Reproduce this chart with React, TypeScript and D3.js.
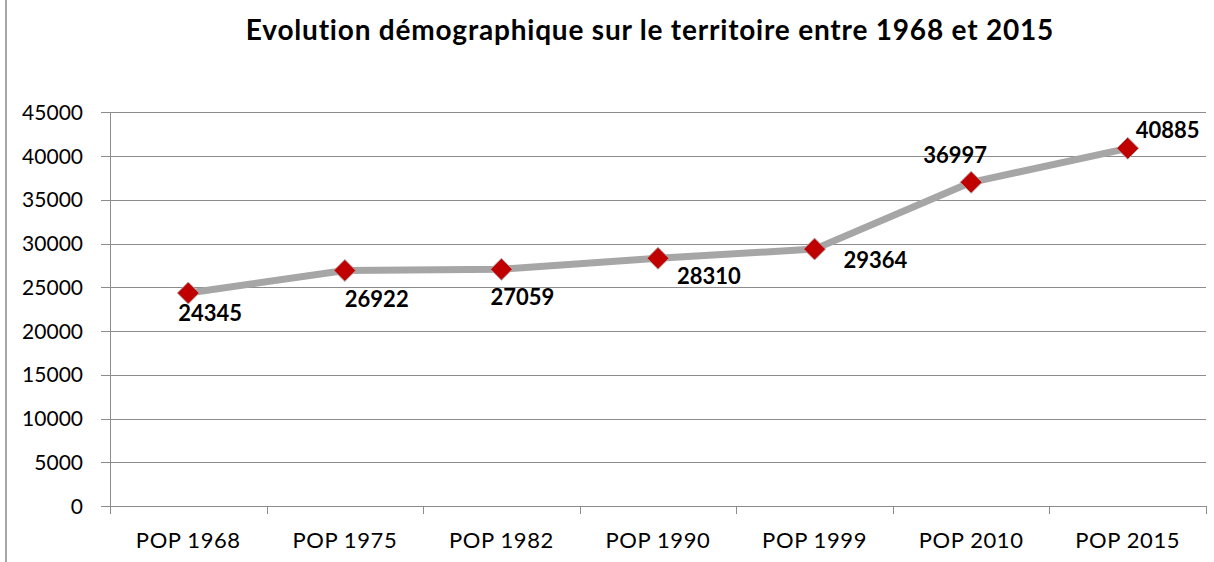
import React from "react";
import * as d3 from "d3";

const title = "Evolution démographique sur le territoire entre 1968 et 2015";
const categories = ["POP 1968", "POP 1975", "POP 1982", "POP 1990", "POP 1999", "POP 2010", "POP 2015"];
const population = [24345, 26922, 27059, 28310, 29364, 36997, 40885];
const yTicks = [0, 5000, 10000, 15000, 20000, 25000, 30000, 35000, 40000, 45000];
// label placement offsets relative to marker (text start, baseline)
const labelDx = [-10, 0, -11, 19, 29, -48, 8];
const labelDy = [28, 37, 36, 26, 19, -19, -10];

const W = 1214;
const H = 562;
const plot = { left: 110, right: 1206, top: 112.3, bottom: 506 };
const FONT = "Lato, 'Open Sans', sans-serif";

export default function App() {
  const x = d3.scaleBand<string>().domain(categories).range([plot.left, plot.right]);
  const y = d3.scaleLinear().domain([0, 45000]).range([plot.bottom, plot.top]);
  const cx = (c: string) => (x(c) as number) + x.bandwidth() / 2;
  const line = d3
    .line<number>()
    .x((_, i) => cx(categories[i]))
    .y((d) => y(d));
  const catTicks = [...categories.map((c) => x(c) as number), plot.right];
  const r = 11;

  return (
    <div style={{ position: "absolute", left: 0, top: 0 }}>
      <svg width={W} height={H} style={{ display: "block", background: "#fff" }}>
        <rect x={0} y={0} width={W} height={H} fill="#fff" />
        <line x1={6} x2={6} y1={0} y2={H} stroke="#a6a6a6" strokeWidth={2} />
        <text
          x={650}
          y={40}
          textAnchor="middle"
          fontFamily={FONT}
          fontWeight="bold"
          fontSize={28}
          letterSpacing={0.8}
          fill="#000"
        >
          {title}
        </text>
        {yTicks.map((t) => (
          <g key={t}>
            <line
              x1={plot.left - 9}
              x2={plot.right}
              y1={Math.round(y(t)) + 0.5}
              y2={Math.round(y(t)) + 0.5}
              stroke="#8c8c8c"
              strokeWidth={1}
            />
            <text
              x={83}
              y={y(t) + 7.5}
              textAnchor="end"
              fontFamily={FONT}
              fontSize={21}
              fill="#000"
            >
              {t}
            </text>
          </g>
        ))}
        <line x1={plot.left + 0.5} x2={plot.left + 0.5} y1={plot.top} y2={plot.bottom} stroke="#8c8c8c" />
        {catTicks.map((t, i) => (
          <line
            key={i}
            x1={Math.round(t) + 0.5}
            x2={Math.round(t) + 0.5}
            y1={plot.bottom}
            y2={plot.bottom + 8}
            stroke="#8c8c8c"
          />
        ))}
        {categories.map((c) => (
          <text
            key={c}
            x={cx(c)}
            y={548}
            textAnchor="middle"
            fontFamily={FONT}
            fontSize={22}
            letterSpacing={0.6}
            fill="#000"
          >
            {c}
          </text>
        ))}
        <path
          d={line(population) || ""}
          fill="none"
          stroke="#a6a6a6"
          strokeWidth={7}
          strokeLinejoin="round"
          strokeLinecap="round"
        />
        {population.map((v, i) => {
          const px = cx(categories[i]);
          const py = y(v);
          return (
            <path
              key={i}
              d={`M${px},${py - r}L${px + r},${py}L${px},${py + r}L${px - r},${py}Z`}
              fill="#c00000"
              stroke="#b0b0b0"
              strokeWidth={1}
            />
          );
        })}
        {population.map((v, i) => (
          <text
            key={i}
            x={cx(categories[i]) + labelDx[i]}
            y={y(v) + labelDy[i]}
            fontFamily={FONT}
            fontWeight="bold"
            fontSize={22}
            fill="#000"
          >
            {v}
          </text>
        ))}
      </svg>
    </div>
  );
}
